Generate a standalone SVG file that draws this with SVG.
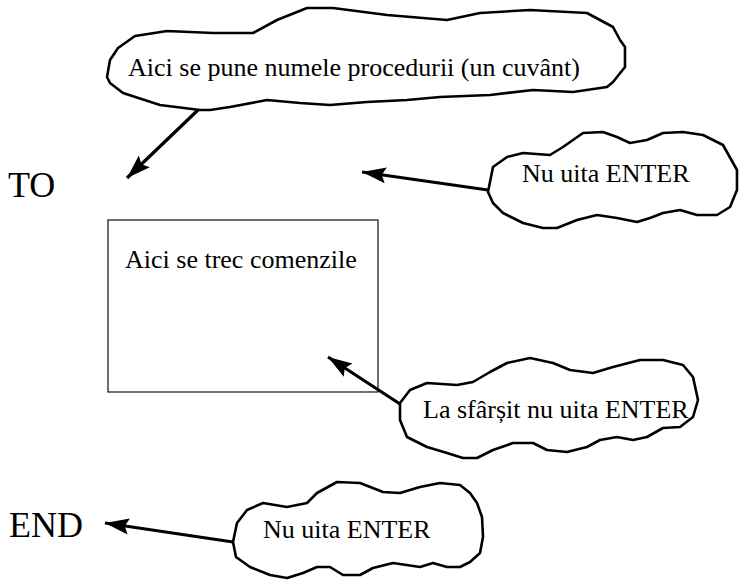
<svg xmlns="http://www.w3.org/2000/svg" width="744" height="583" viewBox="0 0 744 583">
<style>
.cloud{fill:#fff;stroke:#000;stroke-width:2.6;stroke-linejoin:round}
.t{font-family:"Liberation Serif","Times New Roman",serif;fill:#000}
.lbl{font-size:26px}
.kw{font-size:36px}
.arr{stroke:#000;stroke-width:3.2;fill:none;marker-end:url(#ah)}
</style>
<defs>
<marker id="ah" markerUnits="userSpaceOnUse" markerWidth="28" markerHeight="20" refX="24" refY="9" orient="auto">
<path d="M0,1 L24,9 L0,17 L4,9 Z" fill="#000"/>
</marker>
</defs>
<rect width="744" height="583" fill="#fff"/>
<g id="to"><text class="t kw" x="8" y="197">TO</text></g>
<g id="end"><text class="t kw" x="9" y="537">END</text></g>
<g id="commands">
<rect x="108" y="220" width="270" height="172" fill="#fff" stroke="#222" stroke-width="1.3"/>
<text class="t lbl" x="125" y="268">Aici se trec comenzile</text>
</g>
<g id="connectors">
<line class="arr" x1="198" y1="110" x2="127" y2="178"/>
<line class="arr" x1="488" y1="190" x2="362" y2="172"/>
<line class="arr" x1="400" y1="404" x2="328" y2="357"/>
<line class="arr" x1="233" y1="542" x2="105" y2="523"/>
</g>
<g id="cloud-name">
<path class="cloud" d="M107,77 L110,60 L118,48 L135,36 L167,31 L213,33 L253,33 L277,20 L307,8 L333,8 L387,15 L447,20 L480,13 L530,10 L587,13 L613,27 L620,40 L625,47 L625,67 L613,82 L607,87 L573,92 L533,90 L490,95 L440,97 L407,100 L367,102 L330,105 L300,103 L267,100 L230,107 L210,110 L200,110 L160,105 L123,93 L110,83 Z"/>
<text class="t lbl" x="128" y="76">Aici se pune numele procedurii (un cuvânt)</text>
</g>
<g id="cloud-enter1">
<path class="cloud" d="M488,192 L493,167 L507,157 L523,153 L550,155 L563,147 L583,133 L603,132 L617,137 L630,143 L647,140 L663,133 L683,132 L703,135 L723,145 L737,170 L737,190 L730,207 L717,215 L697,215 L680,210 L663,213 L650,218 L637,222 L617,218 L597,215 L577,220 L557,228 L543,228 L523,223 L503,213 L493,203 Z"/>
<text class="t lbl" x="522" y="182">Nu uita ENTER</text>
</g>
<g id="cloud-enter2">
<path class="cloud" d="M400,403 L410,390 L427,383 L457,385 L473,382 L490,372 L507,363 L530,358 L553,363 L570,370 L593,373 L613,367 L640,360 L663,360 L683,365 L693,377 L698,400 L693,417 L680,427 L663,428 L647,437 L633,440 L617,437 L600,440 L587,447 L567,452 L547,450 L533,443 L513,443 L493,450 L477,458 L463,458 L447,453 L427,447 L407,437 L400,420 Z"/>
<text class="t lbl" x="423" y="418">La sfârșit nu uita ENTER</text>
</g>
<g id="cloud-enter3">
<path class="cloud" d="M233,542 L237,523 L247,510 L263,503 L287,507 L307,503 L317,493 L337,482 L360,483 L383,492 L400,493 L420,487 L440,483 L460,485 L470,493 L477,503 L482,517 L483,537 L480,553 L470,562 L460,567 L447,567 L433,563 L420,567 L393,563 L373,568 L360,575 L343,575 L330,567 L317,567 L303,573 L287,578 L270,575 L250,567 L236,557 Z"/>
<text class="t lbl" x="263" y="538">Nu uita ENTER</text>
</g>
</svg>
